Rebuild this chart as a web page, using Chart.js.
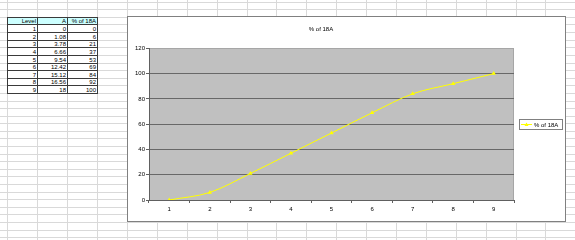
<!DOCTYPE html>
<html><head><meta charset="utf-8">
<script src="https://cdn.jsdelivr.net/npm/chart.js@4/dist/chart.umd.min.js"></script>
<style>
html,body{margin:0;padding:0;background:#fff;width:575px;height:240px;overflow:hidden;font-family:'Liberation Sans',Arial,sans-serif;}
#sheet{position:absolute;left:0;top:0;width:575px;height:240px;}
.gl{position:absolute;background:#d9d9d9;}
.cell{position:absolute;box-sizing:border-box;border:1px solid #3a3a3a;font-size:6px;line-height:6px;color:#000;display:flex;align-items:center;justify-content:flex-end;padding-right:1px;white-space:nowrap;background:#fff;}
.cell.hdr{background:#ccffff;}
#chartbox{position:absolute;left:127px;top:16px;width:439px;height:206px;box-sizing:border-box;border:1px solid #808080;background:#fff;}
#chartbox canvas{position:absolute;left:0;top:0;}
</style>
</head><body>
<div id="sheet"></div>
<div id="chartbox"><canvas id="c" width="437" height="204"></canvas></div>
<script>
// ---- data ----
const tableHeaders = ['Level', 'A', '% of 18A'];
const levels = [1, 2, 3, 4, 5, 6, 7, 8, 9];
const ampValues = ['0', '1.08', '3.78', '6.66', '9.54', '12.42', '15.12', '16.56', '18'];
const pctOf18A = [0, 6, 21, 37, 53, 69, 84, 92, 100];
const seriesLabel = '% of 18A';
const chartTitle = '% of 18A';
const yMin = 0, yMax = 120, yStep = 20;

// ---- spreadsheet grid ----
const sheet = document.getElementById('sheet');
const colX = k => Math.round(7.3 + 29.9 * k);
const rowY = k => Math.round(1.7 + 7.6 * k);
for (let k = 0; colX(k) < 575; k++) {
  const d = document.createElement('div'); d.className = 'gl';
  d.style.cssText = `left:${colX(k)}px;top:0;width:1px;height:240px`;
  sheet.appendChild(d);
}
for (let k = 0; rowY(k) < 240; k++) {
  const d = document.createElement('div'); d.className = 'gl';
  d.style.cssText = `left:0;top:${rowY(k)}px;width:575px;height:1px`;
  sheet.appendChild(d);
}
// ---- table ----
function cell(col, row, text, hdr) {
  const d = document.createElement('div');
  d.className = 'cell' + (hdr ? ' hdr' : '');
  const x = colX(col), y = rowY(row);
  d.style.left = x + 'px'; d.style.top = y + 'px';
  d.style.width = (colX(col + 1) - x + 1) + 'px';
  d.style.height = (rowY(row + 1) - y + 1) + 'px';
  d.textContent = text;
  sheet.appendChild(d);
}
tableHeaders.forEach((h, i) => cell(i, 2, h, true));
levels.forEach((lv, r) => {
  cell(0, 3 + r, String(lv));
  cell(1, 3 + r, ampValues[r]);
  cell(2, 3 + r, String(pctOf18A[r]));
});

// ---- chart ----
const FONT = "'Liberation Sans', Arial, sans-serif";
const plotBg = {
  id: 'plotBg',
  beforeDraw(chart) {
    const { ctx, chartArea: a } = chart;
    ctx.save();
    ctx.fillStyle = '#c0c0c0';
    ctx.fillRect(a.left, a.top, a.right - a.left, a.bottom - a.top);
    ctx.strokeStyle = '#a6a6a6'; ctx.lineWidth = 1;
    ctx.beginPath();
    ctx.moveTo(Math.round(a.right) - 0.5, a.top);
    ctx.lineTo(Math.round(a.right) - 0.5, a.bottom);
    ctx.stroke();
    ctx.restore();
  }
};
function tri(ctx, x, y, r) {
  ctx.beginPath();
  ctx.moveTo(x, y - r); ctx.lineTo(x + r, y + r * 0.8); ctx.lineTo(x - r, y + r * 0.8);
  ctx.closePath(); ctx.fill();
}
const xlLegend = {
  id: 'xlLegend',
  afterDraw(chart) {
    const { ctx, chartArea: a } = chart;
    const x0 = Math.round(a.right) + 5, y0 = Math.round((a.top + a.bottom) / 2) - 5;
    ctx.save();
    ctx.strokeStyle = '#808080'; ctx.lineWidth = 1;
    ctx.strokeRect(x0 + 0.5, y0 + 0.5, 43, 10);
    ctx.strokeStyle = '#ffff00';
    ctx.beginPath(); ctx.moveTo(x0 + 2, y0 + 5.5); ctx.lineTo(x0 + 13, y0 + 5.5); ctx.stroke();
    ctx.fillStyle = '#ffff00'; tri(ctx, x0 + 7.5, y0 + 5.5, 2);
    ctx.fillStyle = '#000'; ctx.font = '6px ' + FONT; ctx.textBaseline = 'middle'; ctx.textAlign = 'left';
    ctx.fillText(chart.data.datasets[0].label, x0 + 15, y0 + 6);
    ctx.restore();
  }
};

new Chart(document.getElementById('c'), {
  type: 'line',
  data: {
    labels: levels.map(String),
    datasets: [{
      label: seriesLabel,
      data: pctOf18A,
      borderColor: '#ffff00',
      backgroundColor: '#ffff00',
      borderWidth: 1,
      cubicInterpolationMode: 'monotone',
      pointStyle: 'triangle',
      pointRadius: 2.5,
      pointBorderWidth: 0,
      pointBackgroundColor: '#ffff00'
    }]
  },
  options: {
    responsive: false,
    animation: false,
    devicePixelRatio: 1,
    layout: { padding: { left: 0, right: 51, top: 0, bottom: 0 } },
    plugins: {
      legend: { display: false },
      tooltip: { enabled: false },
      title: {
        display: true, text: chartTitle, color: '#000',
        font: { family: FONT, size: 6, weight: 'normal' },
        padding: { top: 8.5, bottom: 15.6 }
      }
    },
    scales: {
      x: {
        offset: true,
        grid: { offset: true, drawOnChartArea: false, drawTicks: true, tickLength: 3, color: '#606060' },
        border: { color: '#606060', width: 1 },
        ticks: { color: '#000', font: { family: FONT, size: 6 }, padding: 3, maxRotation: 0 },
        afterFit(s) { s.height = 21; }
      },
      y: {
        min: yMin, max: yMax,
        ticks: { stepSize: yStep, color: '#000', font: { family: FONT, size: 6 }, padding: 1 },
        grid: {
          color: c => (c.tick && c.tick.value === yMax) ? '#a6a6a6' : '#686868',
          tickColor: '#606060', tickLength: 3, drawTicks: true
        },
        border: { color: '#606060', width: 1 },
        afterFit(s) { s.width = 21; }
      }
    }
  },
  plugins: [plotBg, xlLegend]
});
</script>
</body></html>
